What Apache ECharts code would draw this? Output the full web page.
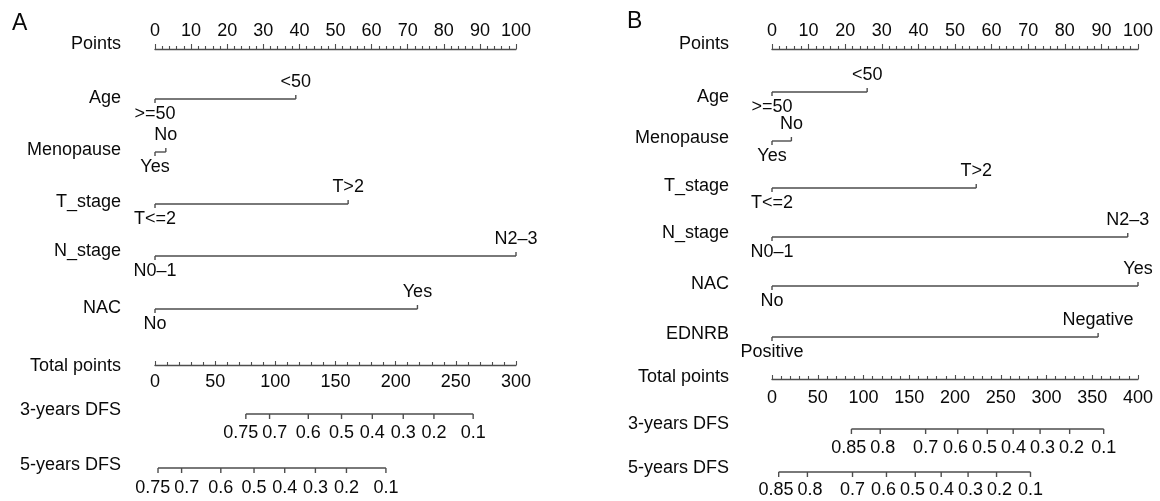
<!DOCTYPE html>
<html>
<head>
<meta charset="utf-8">
<script src="https://cdn.jsdelivr.net/npm/echarts@6/dist/echarts.min.js"></script>
<style>
html,body{margin:0;padding:0;background:#fff;}
#chart{width:1160px;height:501px;}
</style>
</head>
<body>
<div id="chart"></div>
<script>
// ---------------- DATA ----------------
// Panel A
const namesA = ['Age', 'Menopause', 'T_stage', 'N_stage', 'NAC'];
const levelLabelsA = [['>=50', '<50'], ['Yes', 'No'], ['T<=2', 'T>2'], ['N0\u20131', 'N2\u20133'], ['No', 'Yes']];
const levelPointsA = [[0, 39], [0, 3], [0, 53.5], [0, 100], [0, 72.7]];
const totalMaxA = 300;
const dfs3LabelsA = ['0.75', '0.7', '0.6', '0.5', '0.4', '0.3', '0.2', '0.1'];
const dfs3TotalA = [75.5, 95.2, 127.4, 155, 180.6, 206.3, 231.8, 264.4];
const dfs5LabelsA = ['0.75', '0.7', '0.6', '0.5', '0.4', '0.3', '0.2', '0.1'];
const dfs5TotalA = [2.5, 22.1, 54.7, 82.3, 107.8, 133.3, 159.1, 191.9];

// Panel B
const namesB = ['Age', 'Menopause', 'T_stage', 'N_stage', 'NAC', 'EDNRB'];
const levelLabelsB = [['>=50', '<50'], ['Yes', 'No'], ['T<=2', 'T>2'], ['N0\u20131', 'N2\u20133'], ['No', 'Yes'], ['Positive', 'Negative']];
const levelPointsB = [[0, 26], [0, 5.3], [0, 55.8], [0, 97.2], [0, 100], [0, 89.1]];
const totalMaxB = 400;
const dfs3LabelsB = ['0.85', '0.8', '0.7', '0.6', '0.5', '0.4', '0.3', '0.2', '0.1'];
const dfs3TotalB = [86.8, 118.3, 167.9, 203.0, 235.3, 263.6, 293.0, 325.3, 362.5];
const dfs5LabelsB = ['0.85', '0.8', '0.7', '0.6', '0.5', '0.4', '0.3', '0.2', '0.1'];
const dfs5TotalB = [7.3, 38.7, 88.0, 125.1, 156.6, 184.9, 214.3, 245.4, 282.5];

const axisNames = ['Points', 'Total points', '3-years DFS', '5-years DFS'];

// ---------------- LAYOUT / STYLE ----------------
const FONT = '"Liberation Sans", Arial, Helvetica, sans-serif';
const TEXT = '#0a0a0a';
const LINE = '#4d4d4d';
const FS = 18;
const LW = 1.4;
const LABEL_GAP = 4;

const layoutA = {
  letter: 'A', letterX: 7, letterY: 7,
  left: 155, width: 361, nameRight: 121,
  pointsY: 50, pointsName: 44, pointsNum: 32,
  varY: [99, 152, 204, 256, 309], varName: [98, 150, 202, 251, 308],
  totalY: 364, totalName: 366, totalNum: 381,
  dfs3Y: 414, dfs3Name: 410, dfs3Num: 433,
  dfs5Y: 468, dfs5Name: 465, dfs5Num: 488
};
const layoutB = {
  letter: 'B', letterX: 622, letterY: 5,
  left: 772, width: 366, nameRight: 729,
  pointsY: 50, pointsName: 44, pointsNum: 32,
  varY: [92, 141, 188, 237, 286, 337], varName: [97, 138, 186, 233, 284, 334],
  totalY: 378, totalName: 377, totalNum: 397,
  dfs3Y: 429, dfs3Name: 424, dfs3Num: 448,
  dfs5Y: 472, dfs5Name: 468, dfs5Num: 490
};

const measureCtx = document.createElement('canvas').getContext('2d');
measureCtx.font = FS + 'px ' + FONT;
function textWidth(s) { return measureCtx.measureText(s).width; }

// push neighbouring labels apart so that they do not overlap
function spreadLabels(centers, widths, gap) {
  const p = centers.slice();
  for (let it = 0; it < 30; it++) {
    let moved = false;
    for (let i = 0; i < p.length - 1; i++) {
      const ov = (p[i] + widths[i] / 2 + gap) - (p[i + 1] - widths[i + 1] / 2);
      if (ov > 0.05) { p[i] -= ov / 2; p[i + 1] += ov / 2; moved = true; }
    }
    if (!moved) break;
  }
  return p;
}

const grids = [], xAxes = [], yAxes = [], series = [], titles = [], graphics = [];

function addName(L, name, y) {
  graphics.push({
    type: 'text', x: L.nameRight, y: y, silent: true,
    style: { text: name, fill: TEXT, fontSize: FS, fontFamily: FONT,
      align: 'right', verticalAlign: 'middle' }
  });
}

function addGrid(L, lineY) {
  grids.push({ left: L.left, width: L.width, top: lineY - 1, height: 2,
    containLabel: false, outerBoundsMode: 'none' });
  const gi = grids.length - 1;
  yAxes.push({ gridIndex: gi, type: 'value', min: -1, max: 1, show: false });
  return gi;
}

// ticks + labels at given scale values; dir(i) -> +1 (down, label below) or -1 (up, label above)
function tickLabelSeries(g, values, labels, dir, tickLen, labelOff, spread) {
  const widths = labels.map(textWidth);
  return {
    type: 'custom', xAxisIndex: g, yAxisIndex: g, clip: false, silent: true,
    data: values.map((v, i) => [v, 0, i]),
    renderItem: function (params, api) {
      const i = api.value(2);
      const d = dir(i);
      const c = api.coord([api.value(0), 0]);
      let lx = c[0];
      if (spread) {
        const centers = values.map(v => api.coord([v, 0])[0]);
        lx = spreadLabels(centers, widths, LABEL_GAP)[i];
      }
      return {
        type: 'group',
        children: [
          { type: 'line', shape: { x1: c[0], y1: c[1], x2: c[0], y2: c[1] + d * tickLen },
            style: { stroke: LINE, lineWidth: LW } },
          { type: 'text', x: lx, y: c[1] + (d < 0 ? -labelOff[0] : labelOff[1]),
            style: { text: labels[i], fill: TEXT, fontSize: FS, fontFamily: FONT,
              align: 'center', verticalAlign: 'middle' } }
        ]
      };
    }
  };
}

function segment(g, a, b) {
  return {
    type: 'line', xAxisIndex: g, yAxisIndex: g, clip: false, silent: true,
    symbol: 'none', lineStyle: { color: LINE, width: LW },
    data: [[a, 0], [b, 0]]
  };
}

function buildPanel(L, names, levelLabels, levelPoints, totalMax, d3L, d3T, d5L, d5T) {
  titles.push({ text: L.letter, left: L.letterX, top: L.letterY,
    textStyle: { fontSize: 23, fontWeight: 'normal', fontFamily: FONT, color: TEXT } });

  // Points axis
  let gi = addGrid(L, L.pointsY);
  xAxes.push({
    gridIndex: gi, type: 'value', min: 0, max: 100, interval: 10, position: 'top',
    axisLine: { show: true, onZero: false, lineStyle: { color: LINE, width: LW } },
    axisTick: { show: true, length: 5, lineStyle: { color: LINE, width: 1.1 } },
    minorTick: { show: true, splitNumber: 5, length: 3, lineStyle: { color: LINE, width: 1.1 } },
    splitLine: { show: false }, minorSplitLine: { show: false },
    axisLabel: { show: true, fontSize: FS, fontFamily: FONT, color: TEXT,
      margin: L.pointsY - L.pointsNum - 9, showMinLabel: true, showMaxLabel: true }
  });
  addName(L, axisNames[0], L.pointsName);

  // Variable rows
  names.forEach((nm, k) => {
    const y = L.varY[k];
    const g = addGrid(L, y);
    xAxes.push({ gridIndex: g, type: 'value', min: 0, max: 100, show: false });
    addName(L, nm, L.varName[k]);
    const pts = levelPoints[k];
    series.push(segment(g, Math.min(...pts), Math.max(...pts)));
    series.push(tickLabelSeries(g, pts, levelLabels[k], i => (i > 0 ? -1 : 1), 4, [17, 15], false));
  });

  // Total points axis
  gi = addGrid(L, L.totalY);
  xAxes.push({
    gridIndex: gi, type: 'value', min: 0, max: totalMax, interval: 50, position: 'bottom',
    axisLine: { show: true, onZero: false, lineStyle: { color: LINE, width: LW } },
    axisTick: { show: true, inside: true, length: 4, lineStyle: { color: LINE, width: 1.1 } },
    minorTick: { show: true, splitNumber: 5, length: 3, lineStyle: { color: LINE, width: 1.1 } },
    splitLine: { show: false }, minorSplitLine: { show: false },
    axisLabel: { show: true, fontSize: FS, fontFamily: FONT, color: TEXT,
      margin: L.totalNum - L.totalY - 9, showMinLabel: true, showMaxLabel: true }
  });
  addName(L, axisNames[1], L.totalName);

  // DFS axes (nonlinear probability scales placed on the total-points scale)
  [[d3L, d3T, L.dfs3Y, L.dfs3Name, L.dfs3Num, axisNames[2]],
   [d5L, d5T, L.dfs5Y, L.dfs5Name, L.dfs5Num, axisNames[3]]].forEach(([labs, tots, y, ny, numY, nm]) => {
    const g = addGrid(L, y);
    xAxes.push({ gridIndex: g, type: 'value', min: 0, max: totalMax, show: false });
    addName(L, nm, ny);
    series.push(segment(g, tots[0], tots[tots.length - 1]));
    series.push(tickLabelSeries(g, tots, labs, () => 1, 5, [0, numY - y], true));
  });
}

buildPanel(layoutA, namesA, levelLabelsA, levelPointsA, totalMaxA, dfs3LabelsA, dfs3TotalA, dfs5LabelsA, dfs5TotalA);
buildPanel(layoutB, namesB, levelLabelsB, levelPointsB, totalMaxB, dfs3LabelsB, dfs3TotalB, dfs5LabelsB, dfs5TotalB);

const chart = echarts.init(document.getElementById('chart'), null, { renderer: 'canvas' });
chart.setOption({
  animation: false,
  backgroundColor: '#ffffff',
  textStyle: { fontFamily: FONT },
  title: titles,
  grid: grids,
  xAxis: xAxes,
  yAxis: yAxes,
  series: series,
  graphic: graphics
});
</script>
</body>
</html>
